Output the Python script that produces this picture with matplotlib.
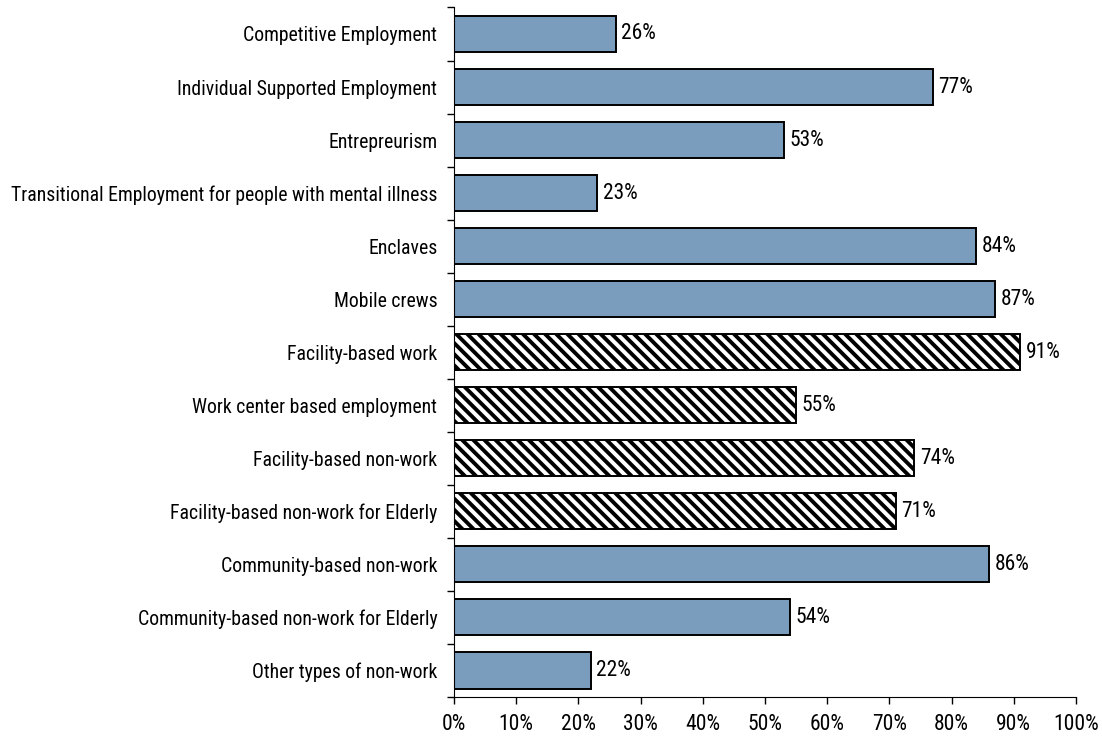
import matplotlib.pyplot as plt

categories = [
    "Competitive Employment",
    "Individual Supported Employment",
    "Entrepreurism",
    "Transitional Employment for people with mental illness",
    "Enclaves",
    "Mobile crews",
    "Facility-based work",
    "Work center based employment",
    "Facility-based non-work",
    "Facility-based non-work for Elderly",
    "Community-based non-work",
    "Community-based non-work for Elderly",
    "Other types of non-work",
]
values = [26, 77, 53, 23, 84, 87, 91, 55, 74, 71, 86, 54, 22]
hatched = [False, False, False, False, False, False, True, True, True, True, False, False, False]
xticks = [0, 10, 20, 30, 40, 50, 60, 70, 80, 90, 100]

plt.rcParams["font.family"] = ["Roboto Condensed", "DejaVu Sans"]
plt.rcParams["hatch.linewidth"] = 2.8

fig = plt.figure(figsize=(11.02, 7.39), dpi=100)
ax = fig.add_axes([0.412, 0.0568, 0.5644, 0.9331])

for i, (v, h) in enumerate(zip(values, hatched)):
    if h:
        ax.barh(i, v, height=0.68, color="white", edgecolor="black", hatch="\\\\\\", linewidth=1.4)
    else:
        ax.barh(i, v, height=0.68, color="#7A9CBD", edgecolor="black", linewidth=1.4)
    ax.text(v + 0.9, i, f"{v}%", va="center", ha="left", fontsize=15.5)

ax.set_xlim(0, 100)
ax.set_ylim(len(categories) - 0.5, -0.5)
ax.set_xticks(xticks)
ax.set_xticklabels([f"{t}%" for t in xticks], fontsize=15.5)
ax.set_yticks(range(len(categories)))
ax.set_yticklabels(categories, fontsize=14.2)
ax.set_yticks([i + 0.5 for i in range(-1, len(categories))], minor=True)
ax.tick_params(axis="y", which="major", length=0, pad=12)
ax.tick_params(axis="y", which="minor", length=5, width=1)
ax.tick_params(axis="x", length=5, width=1, pad=7)
ax.spines["top"].set_visible(False)
ax.spines["right"].set_visible(False)

fig.savefig("out.png", dpi=100)
